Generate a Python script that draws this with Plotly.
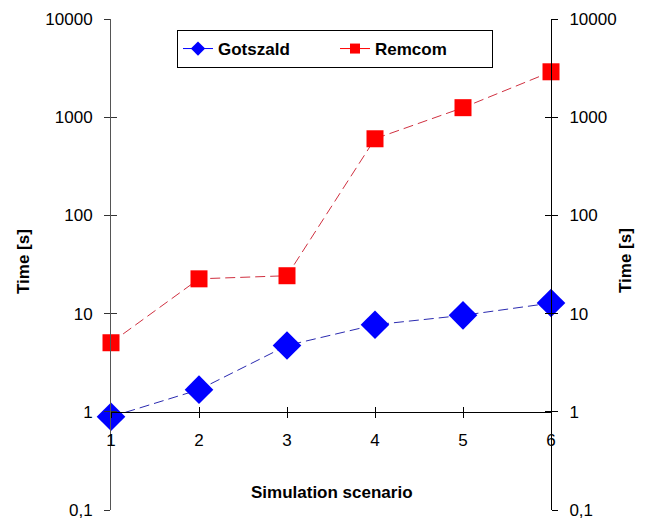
import plotly.graph_objects as go

scenarios = [1, 2, 3, 4, 5, 6]
gotszald = [0.89, 1.68, 4.73, 7.7, 9.6, 12.8]
remcom = [5.05, 22.6, 24.3, 603, 1250, 2900]
ytickvals = [0.1, 1, 10, 100, 1000, 10000]
yticktext = ["0,1", "1", "10", "100", "1000", "10000"]

FONT = "Liberation Sans, Arial, sans-serif"
fs = 17
blue = "#0000ff"
red = "#ff0000"

fig = go.Figure()
# plotted traces
fig.add_trace(go.Scatter(x=scenarios, y=gotszald, mode="lines+markers", name="Gotszald",
                         line=dict(color="#2a2ab0", width=1, dash="10px,5px"),
                         marker=dict(symbol="diamond", size=22, color=blue),
                         cliponaxis=False, showlegend=False))
fig.add_trace(go.Scatter(x=scenarios, y=remcom, mode="lines+markers", name="Remcom",
                         line=dict(color="#d03040", width=1, dash="10px,5px"),
                         marker=dict(symbol="square", size=17, color=red),
                         cliponaxis=False, showlegend=False))
# legend entries
fig.add_trace(go.Scatter(x=[None], y=[None], mode="lines+markers", name="Gotszald",
                         line=dict(color=blue, width=1),
                         marker=dict(symbol="diamond", size=11, color=blue)))
fig.add_trace(go.Scatter(x=[None], y=[None], mode="lines+markers", name="Remcom",
                         line=dict(color=red, width=1),
                         marker=dict(symbol="square", size=10, color=red)))
# helper traces for duplicate axes (inside ticks)
fig.add_trace(go.Scatter(x=[None], y=[None], xaxis="x2", yaxis="y3", showlegend=False, hoverinfo="skip"))
fig.add_trace(go.Scatter(x=[None], y=[None], xaxis="x", yaxis="y2", showlegend=False, hoverinfo="skip"))
fig.add_trace(go.Scatter(x=[None], y=[None], xaxis="x", yaxis="y4", showlegend=False, hoverinfo="skip"))

yrange = [-1, 4]
common_y = dict(type="log", range=yrange, tickvals=ytickvals, ticktext=yticktext,
                showgrid=False, zeroline=False, showline=True, linewidth=1, automargin=False,
                tickfont=dict(family=FONT, size=fs, color="black"))

fig.update_layout(
    width=646, height=520,
    margin=dict(l=103, r=103, t=11, b=18, autoexpand=False),
    paper_bgcolor="white", plot_bgcolor="white",
    font=dict(family=FONT, size=fs, color="black"),
    xaxis=dict(range=[1, 6], tickvals=scenarios, showgrid=False, zeroline=False,
               showline=True, linecolor="black", linewidth=1, automargin=False,
               ticks="outside", ticklen=5, tickcolor="black",
               anchor="free", position=0.2, ticklabelstandoff=8,
               tickfont=dict(family=FONT, size=fs, color="black")),
    xaxis2=dict(range=[1, 6], tickvals=scenarios, showgrid=False, zeroline=False,
                showline=False, ticks="inside", ticklen=5, tickcolor="black", automargin=False,
                showticklabels=False, anchor="free", position=0.2, overlaying="x"),
    yaxis=dict(**common_y, linecolor="#555555", ticks="outside", ticklen=6,
               tickcolor="#333333", ticklabelstandoff=8, side="left", anchor="x"),
    yaxis3=dict(type="log", range=yrange, tickvals=ytickvals, showgrid=False, zeroline=False,
                showline=False, ticks="inside", ticklen=6, tickcolor="#333333", automargin=False,
                showticklabels=False, overlaying="y", anchor="x", side="left"),
    yaxis2=dict(**common_y, linecolor="black", ticks="outside", ticklen=6,
                tickcolor="black", ticklabelstandoff=8, side="right", overlaying="y", anchor="x"),
    yaxis4=dict(type="log", range=yrange, tickvals=ytickvals, showgrid=False, zeroline=False,
                showline=False, ticks="inside", ticklen=6, tickcolor="black", automargin=False,
                showticklabels=False, overlaying="y", anchor="x", side="right"),
    legend=dict(orientation="h", x=(177-111)/440, y=(510-30)/491, xanchor="left", yanchor="top",
                bordercolor="black", borderwidth=1, bgcolor="white",
                font=dict(family=FONT, size=fs, color="black", weight="bold"),
                entrywidth=112, entrywidthmode="pixels", itemsizing="trace"),
    annotations=[
        dict(text="<b>Simulation scenario</b>", xref="paper", yref="paper", x=(332-111)/440, y=(510-492)/491,
             xanchor="center", yanchor="middle", showarrow=False, font=dict(family=FONT, size=fs)),
        dict(text="<b>Time [s]</b>", xref="paper", yref="paper", x=(23-111)/440, y=(510-262)/491,
             xanchor="center", yanchor="middle", textangle=-90, showarrow=False,
             font=dict(family=FONT, size=fs)),
        dict(text="<b>Time [s]</b>", xref="paper", yref="paper", x=(625-111)/440, y=(510-261)/491,
             xanchor="center", yanchor="middle", textangle=-90, showarrow=False,
             font=dict(family=FONT, size=fs)),
    ],
)

fig.write_html("out.html")
